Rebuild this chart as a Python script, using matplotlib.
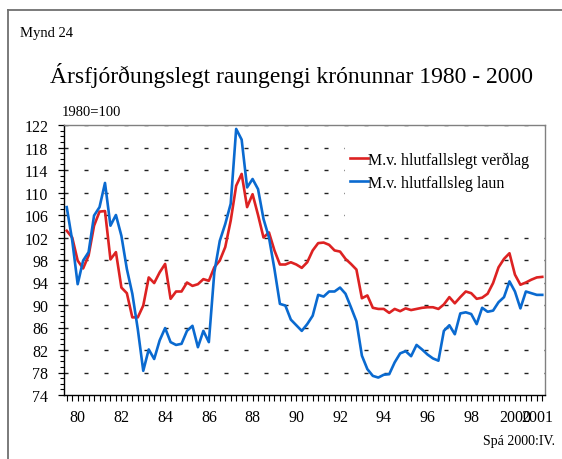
import matplotlib
matplotlib.use("Agg")
import matplotlib.pyplot as plt
from matplotlib.lines import Line2D
from matplotlib.patches import Rectangle
import numpy as np

plt.rcParams['font.family'] = ['Liberation Serif', 'DejaVu Serif']

# Quarterly data 1980Q1 - 2001Q4 (1980=100)
verdlag = [103.2, 102.0, 97.9, 96.5, 98.8, 104.1, 106.6, 106.7,
           98.1, 99.4, 93.1, 92.1, 87.8, 87.8, 89.9, 94.9,
           93.9, 95.8, 97.3, 91.1, 92.4, 92.4, 94.0, 93.4,
           93.7, 94.6, 94.3, 96.7, 97.9, 100.3, 105.0, 111.2,
           113.3, 107.4, 109.7, 106.0, 102.0, 102.9, 99.7, 97.2,
           97.2, 97.6, 97.2, 96.6, 97.6, 99.7, 101.0, 101.1,
           100.7, 99.7, 99.5, 98.2, 97.3, 96.3, 91.2, 91.7,
           89.5, 89.3, 89.3, 88.6, 89.3, 88.9, 89.4, 89.1,
           89.3, 89.5, 89.6, 89.6, 89.3, 90.1, 91.4, 90.3,
           91.4, 92.4, 92.1, 91.1, 91.3, 92.0, 93.9, 96.7,
           98.2, 99.2, 95.4, 93.6, 94.0, 94.5, 94.9, 95.0]

laun = [107.4, 101.5, 93.7, 97.9, 99.4, 105.9, 107.4, 111.7,
        104.1, 106.0, 102.3, 96.4, 92.0, 85.7, 78.3, 82.1,
        80.4, 83.7, 85.9, 83.4, 82.9, 83.1, 85.4, 86.3,
        82.5, 85.4, 83.4, 95.8, 101.4, 104.4, 108.0, 121.3,
        119.4, 110.9, 112.4, 110.6, 105.3, 102.0, 96.4, 90.2,
        89.9, 87.4, 86.4, 85.4, 86.6, 88.1, 91.8, 91.5,
        92.4, 92.4, 93.1, 92.0, 89.6, 87.1, 81.0, 78.6,
        77.4, 77.1, 77.6, 77.7, 79.8, 81.4, 81.8, 80.9,
        82.9, 82.1, 81.2, 80.5, 80.1, 85.4, 86.4, 84.8,
        88.5, 88.7, 88.4, 86.6, 89.5, 88.8, 89.0, 90.5,
        91.4, 94.2, 92.4, 89.4, 92.4, 92.1, 91.8, 91.8]

year_labels = ['80', '82', '84', '86', '88', '90', '92', '94', '96', '98', '2000', '2001']
label_pos = [2, 10, 18, 26, 34, 42, 50, 58, 66, 74, 82, 86]

series_names = ['M.v. hlutfallslegt verðlag', 'M.v. hlutfallsleg laun']
y_ticks = list(range(74, 123, 4))

W, H = 562, 460
fig = plt.figure(figsize=(W / 100, H / 100), dpi=100)
fig.patch.set_facecolor('white')

ax = fig.add_axes([64 / W, 1 - 396 / H, (545 - 64) / W, (396 - 126) / H])

x = np.arange(len(verdlag))

# dashed horizontal grid
for yv in y_ticks[1:]:
    ax.axhline(yv, color='#222222', lw=1.0, linestyle=(0, (2.9, 11.5)), zorder=1)

# white legend background covering the grid
ax.add_patch(Rectangle(((345 - 64) / 481, 1 - (226 - 126) / 270),
                       1 - (345 - 64) / 481, (226 - 129) / 270,
                       transform=ax.transAxes, facecolor='white',
                       edgecolor='none', zorder=2))

ax.plot(x, verdlag, color='#dd2222', lw=1.9, label=series_names[0], zorder=3)
ax.plot(x, laun, color='#0a6ad0', lw=1.9, label=series_names[1], zorder=3)

ax.set_xlim(-0.5, len(verdlag) - 0.5)
ax.set_ylim(74, 122)

ax.set_yticks(y_ticks)
ax.set_yticks(range(74, 123), minor=True)
ax.tick_params(axis='y', which='major', direction='out', length=4.3, width=0.9,
               labelsize=11.5, pad=7, colors='black')
ax.tick_params(axis='y', which='minor', direction='out', length=2.9, width=0.8)

ax.set_xticks(x)
labels = [''] * len(x)
for p, l in zip(label_pos, year_labels):
    labels[p] = l
ax.set_xticklabels(labels)
ax.tick_params(axis='x', which='major', direction='out', length=4.3, width=0.8,
               labelsize=11.5, pad=6)

for s in ['left', 'bottom']:
    ax.spines[s].set_color('black')
    ax.spines[s].set_linewidth(1.0)
for s in ['top', 'right']:
    ax.spines[s].set_color('#808080')
    ax.spines[s].set_linewidth(1.0)

leg = ax.legend(loc='upper left', bbox_to_anchor=((350 - 64) / 481, 0.903),
                frameon=False, fontsize=11.5, handlelength=1.1, handletextpad=0.05,
                borderpad=0, borderaxespad=0, labelspacing=0.45)
leg.set_zorder(4)

# texts
fig.text(20 / W, 1 - 33 / H, 'Mynd 24', fontsize=10.5, va='center', ha='left')
fig.text(291 / W, 1 - 76 / H, 'Ársfjórðungslegt raungengi krónunnar 1980 - 2000',
         fontsize=17, va='center', ha='center')
fig.text(62 / W, 1 - 113 / H, '1980=100', fontsize=10.5, va='center', ha='left')
fig.text(555 / W, 1 - 442 / H, 'Spá 2000:IV.', fontsize=10, va='center', ha='right')

# outer frame (cropped on right and bottom)
fig.add_artist(Line2D([8 / W, 8 / W], [0, 1 - 11 / H], transform=fig.transFigure,
                      color='#707070', lw=1.3))
fig.add_artist(Line2D([8 / W, 1], [1 - 11 / H, 1 - 11 / H], transform=fig.transFigure,
                      color='#707070', lw=1.3))

fig.savefig('out.png', dpi=100, facecolor='white')
